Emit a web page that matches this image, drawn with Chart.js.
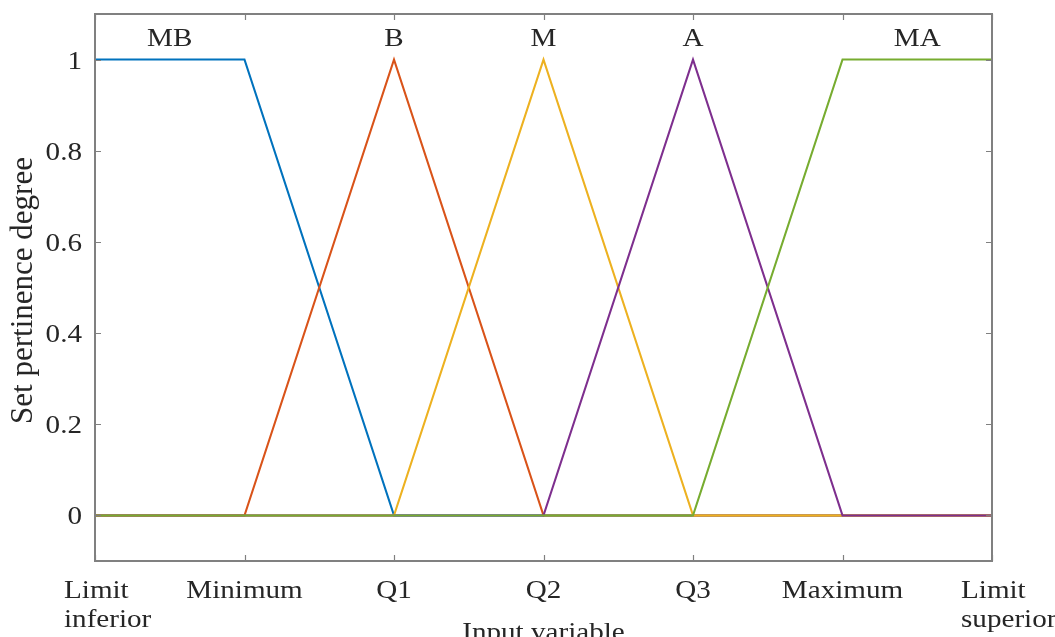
<!DOCTYPE html>
<html>
<head>
<meta charset="utf-8">
<script src="https://cdn.jsdelivr.net/npm/chart.js@4.4.0/dist/chart.umd.min.js"></script>
<style>
  html, body { margin: 0; padding: 0; background: #fff; }
  #wrap { width: 1055px; height: 637px; position: relative; }
</style>
</head>
<body>
<div id="wrap"><canvas id="chart"></canvas></div>
<script>
// x positions are the category index 0..6
const xLabels = [["Limit", "inferior"], ["Minimum"], ["Q1"], ["Q2"], ["Q3"], ["Maximum"], ["Limit", "superior"]];
const yTicks = [0, 0.2, 0.4, 0.6, 0.8, 1];

const setNames = ["MB", "B", "M", "A", "MA"];
const setNameX = [0.5, 2, 3, 4, 5.5];
const setNameY = 1.05;

const mbValues = [1, 1, 0, 0, 0, 0, 0];
const bValues  = [0, 0, 1, 0, 0, 0, 0];
const mValues  = [0, 0, 0, 1, 0, 0, 0];
const aValues  = [0, 0, 0, 0, 1, 0, 0];
const maValues = [0, 0, 0, 0, 0, 1, 1];

const seriesValues = [mbValues, bValues, mValues, aValues, maValues];
const seriesColors = ["#0072BD", "#D95319", "#EDB120", "#7E2F8E", "#77AC30"];

const xTitle = "Input variable";
const yTitle = "Set pertinence degree";

const textColor = "#262626";
const axisColor = "#808080";
const fontFamily = "'Liberation Serif', 'DejaVu Serif', serif";

const toPoints = (vals) => vals.map((v, i) => ({ x: i, y: v }));

// stretched text, matlab export looks wide
function stretchText(ctx, txt, x, y, align, sx) {
  ctx.save();
  ctx.translate(x, y);
  ctx.scale(sx, 1);
  ctx.textAlign = align;
  ctx.fillText(txt, 0, 0);
  ctx.restore();
}

const axesPlugin = {
  id: "matlabAxes",
  afterDraw(chart) {
    const ctx = chart.ctx;
    const xs = chart.scales.x;
    const ys = chart.scales.y;
    const a = chart.chartArea;
    const sx = 1.12;

    ctx.save();
    // frame
    ctx.strokeStyle = axisColor;
    ctx.lineWidth = 2;
    ctx.strokeRect(a.left, a.top, a.right - a.left, a.bottom - a.top);

    // inward ticks on all four sides
    ctx.lineWidth = 1.2;
    ctx.beginPath();
    xLabels.forEach((_, i) => {
      const px = Math.round(xs.getPixelForValue(i)) + 0.5;
      ctx.moveTo(px, a.bottom); ctx.lineTo(px, a.bottom - 6);
      ctx.moveTo(px, a.top); ctx.lineTo(px, a.top + 6);
    });
    yTicks.forEach((t) => {
      const py = Math.round(ys.getPixelForValue(t)) + 0.5;
      ctx.moveTo(a.left, py); ctx.lineTo(a.left + 6, py);
      ctx.moveTo(a.right, py); ctx.lineTo(a.right - 6, py);
    });
    ctx.stroke();

    ctx.fillStyle = textColor;
    ctx.font = "26px " + fontFamily;
    ctx.textBaseline = "alphabetic";

    // y tick labels
    yTicks.forEach((t) => {
      const py = ys.getPixelForValue(t);
      stretchText(ctx, String(t), a.left - 13, py + 9, "right", sx);
    });

    // x tick labels
    xLabels.forEach((lines, i) => {
      const px = xs.getPixelForValue(i);
      if (lines.length > 1) {
        lines.forEach((ln, k) => stretchText(ctx, ln, px - 31, a.bottom + 37 + k * 29, "left", sx));
      } else {
        stretchText(ctx, lines[0], px, a.bottom + 37, "center", sx);
      }
    });

    // set names above the curves
    setNames.forEach((nm, i) => {
      stretchText(ctx, nm, xs.getPixelForValue(setNameX[i]), ys.getPixelForValue(setNameY) + 9, "center", sx);
    });

    // axis titles
    stretchText(ctx, xTitle, (a.left + a.right) / 2, a.bottom + 79, "center", sx);

    ctx.save();
    ctx.translate(32, (a.top + a.bottom) / 2 + 3);
    ctx.rotate(-Math.PI / 2);
    ctx.font = "31px " + fontFamily;
    ctx.textAlign = "center";
    ctx.fillText(yTitle, 0, 0);
    ctx.restore();

    ctx.restore();
  }
};

const datasets = seriesValues.map((vals, i) => ({
  label: setNames[i],
  data: toPoints(vals),
  borderColor: seriesColors[i],
  backgroundColor: seriesColors[i],
  borderWidth: 2,
  pointRadius: 0,
  tension: 0,
  fill: false,
  order: seriesValues.length - i, // last set drawn on top
}));

new Chart(document.getElementById("chart"), {
  type: "line",
  data: { datasets: datasets },
  plugins: [axesPlugin],
  options: {
    responsive: true,
    maintainAspectRatio: false,
    animation: false,
    layout: { padding: { left: 95, top: 14, right: 63, bottom: 76 } },
    plugins: {
      legend: { display: false },
      tooltip: { enabled: false },
    },
    scales: {
      x: { type: "linear", min: 0, max: 6, display: false },
      y: { type: "linear", min: -0.1, max: 1.1, display: false },
    },
  },
});
</script>
</body>
</html>
